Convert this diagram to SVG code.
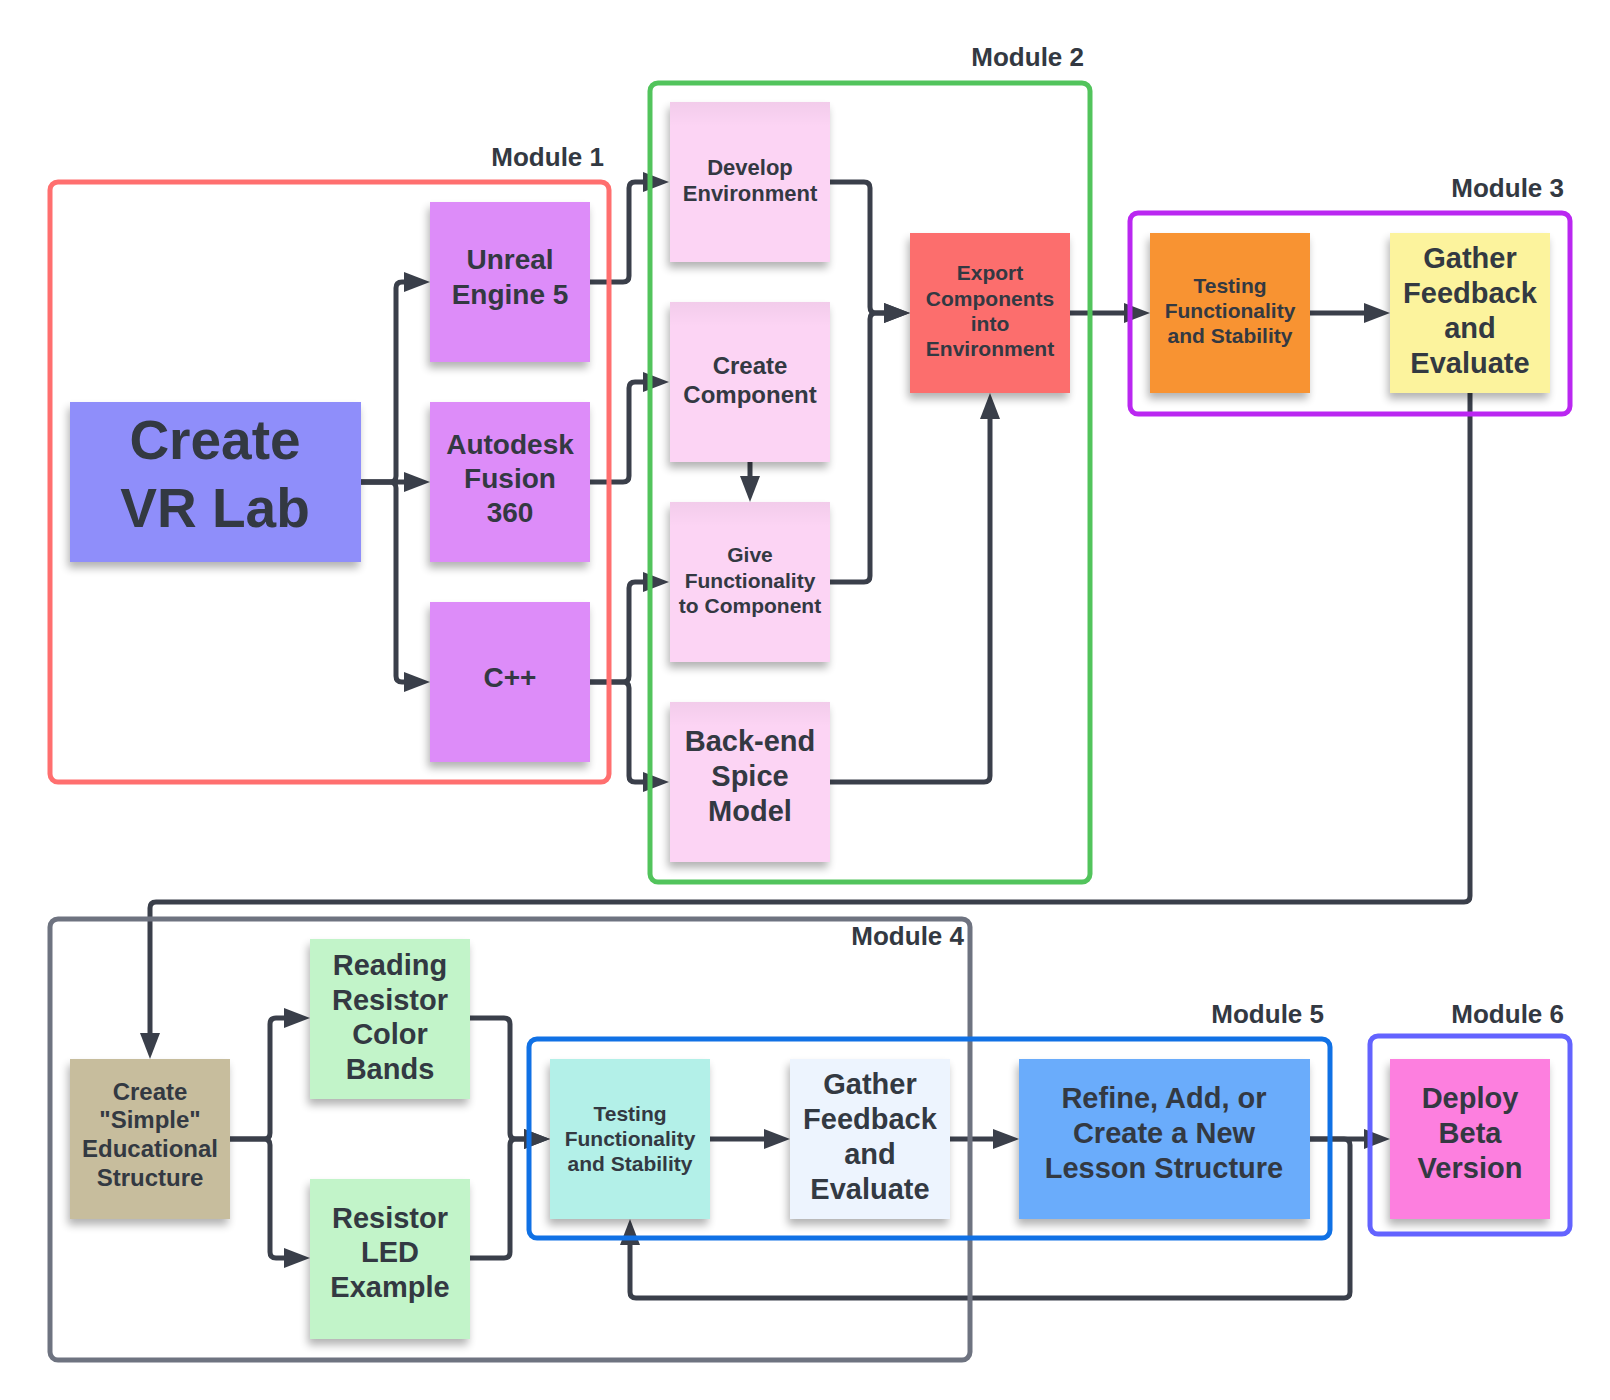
<svg xmlns="http://www.w3.org/2000/svg" width="1610" height="1400" viewBox="0 0 1610 1400">
<style>
.n text{font-family:"Liberation Sans",Arial,sans-serif;font-weight:bold;fill:#333942;text-anchor:middle}
.lbl{font-family:"Liberation Sans",Arial,sans-serif;font-weight:bold;fill:#333942;text-anchor:end;font-size:26px}
.c path{fill:none;stroke:#3A3F4A;stroke-width:5;stroke-linejoin:round}
.c .a{marker-end:url(#arr)}
.f{fill:none;stroke-width:5}
.s{filter:url(#sh)}
</style>
<defs>
<marker id="arr" markerUnits="userSpaceOnUse" markerWidth="26" markerHeight="22" viewBox="0 0 26 22" refX="16" refY="11" orient="auto"><path d="M0,1 L26,11 L0,21 Z" fill="#3A3F4A"/></marker>
<filter id="sh" x="-10%" y="-10%" width="120%" height="125%"><feGaussianBlur in="SourceAlpha" stdDeviation="4"/><feOffset dx="-2" dy="6"/><feComponentTransfer><feFuncA type="linear" slope="0.3"/></feComponentTransfer><feMerge><feMergeNode/><feMergeNode in="SourceGraphic"/></feMerge></filter>
<linearGradient id="tg" x1="0" y1="0" x2="0" y2="1"><stop offset="0" stop-color="#000" stop-opacity="0.04"/><stop offset="0.15" stop-color="#000" stop-opacity="0"/></linearGradient>
</defs>
<rect width="1610" height="1400" fill="#fff"/>

<g id="connectors" class="c">
<path class="a" d="M361,482 H390 Q396,482 396,476 V288 Q396,282 402,282 H420"/>
<path class="a" d="M361,482 H420"/>
<path class="a" d="M361,482 H390 Q396,482 396,488 V676 Q396,682 402,682 H420"/>
<path class="a" d="M590,282 H623 Q629,282 629,276 V188 Q629,182 635,182 H659"/>
<path class="a" d="M590,482 H623 Q629,482 629,476 V388 Q629,382 635,382 H659"/>
<path class="a" d="M590,682 H623 Q629,682 629,676 V588 Q629,582 635,582 H659"/>
<path class="a" d="M590,682 H623 Q629,682 629,688 V776 Q629,782 635,782 H659"/>
<path class="a" d="M750,462 V492"/>
<path class="a" d="M830,182 H864 Q870,182 870,188 V307 Q870,313 876,313 H900"/>
<path class="a" d="M830,582 H864 Q870,582 870,576 V319 Q870,313 876,313 H900"/>
<path class="a" d="M830,782 H984 Q990,782 990,776 V403"/>
<path class="a" d="M1070,313 H1140"/>
<path class="a" d="M1310,313 H1380"/>
<path class="a" d="M1470,393 V896 Q1470,902 1464,902 H156 Q150,902 150,908 V1049"/>
<path class="a" d="M230,1139 H264 Q270,1139 270,1133 V1024 Q270,1018 276,1018 H300"/>
<path class="a" d="M230,1139 H264 Q270,1139 270,1145 V1252 Q270,1258 276,1258 H300"/>
<path class="a" d="M470,1018 H504 Q510,1018 510,1024 V1133 Q510,1139 516,1139 H540"/>
<path class="a" d="M470,1258 H504 Q510,1258 510,1252 V1145 Q510,1139 516,1139 H540"/>
<path class="a" d="M710,1139 H780"/>
<path class="a" d="M950,1139 H1009"/>
<path class="a" d="M1310,1139 H1380"/>
<path class="a" d="M1310,1139 H1344 Q1350,1139 1350,1145 V1292 Q1350,1298 1344,1298 H636 Q630,1298 630,1292 V1229"/>
</g>

<g id="create-vr-lab" class="n"><rect class="s" x="70" y="402" width="291" height="160" fill="#8F8EFA"/><text font-size="55"><tspan x="215" y="459">Create</tspan><tspan x="215" y="527">VR Lab</tspan></text></g>
<g id="unreal" class="n"><rect class="s" x="430" y="202" width="160" height="160" fill="#DD8CF9"/><text font-size="28"><tspan x="510" y="269">Unreal</tspan><tspan x="510" y="304">Engine 5</tspan></text></g>
<g id="autodesk" class="n"><rect class="s" x="430" y="402" width="160" height="160" fill="#DD8CF9"/><text font-size="28"><tspan x="510" y="454">Autodesk</tspan><tspan x="510" y="488">Fusion</tspan><tspan x="510" y="522">360</tspan></text></g>
<g id="cpp" class="n"><rect class="s" x="430" y="602" width="160" height="160" fill="#DD8CF9"/><text font-size="28"><tspan x="510" y="687">C++</tspan></text></g>

<g id="develop-env" class="n"><rect class="s" x="670" y="102" width="160" height="160" fill="#FCD4F4"/><rect x="670" y="102" width="160" height="160" fill="url(#tg)"/><text font-size="22"><tspan x="750" y="175">Develop</tspan><tspan x="750" y="201">Environment</tspan></text></g>
<g id="create-component" class="n"><rect class="s" x="670" y="302" width="160" height="160" fill="#FCD4F4"/><rect x="670" y="302" width="160" height="160" fill="url(#tg)"/><text font-size="24"><tspan x="750" y="374">Create</tspan><tspan x="750" y="403">Component</tspan></text></g>
<g id="give-functionality" class="n"><rect class="s" x="670" y="502" width="160" height="160" fill="#FCD4F4"/><rect x="670" y="502" width="160" height="160" fill="url(#tg)"/><text font-size="21"><tspan x="750" y="562">Give</tspan><tspan x="750" y="588">Functionality</tspan><tspan x="750" y="613">to Component</tspan></text></g>
<g id="backend-spice" class="n"><rect class="s" x="670" y="702" width="160" height="160" fill="#FCD4F4"/><rect x="670" y="702" width="160" height="160" fill="url(#tg)"/><text font-size="29"><tspan x="750" y="751">Back-end</tspan><tspan x="750" y="786">Spice</tspan><tspan x="750" y="821">Model</tspan></text></g>
<g id="export-components" class="n"><rect class="s" x="910" y="233" width="160" height="160" fill="#FC6E6D"/><text font-size="21"><tspan x="990" y="280">Export</tspan><tspan x="990" y="306">Components</tspan><tspan x="990" y="331">into</tspan><tspan x="990" y="356">Environment</tspan></text></g>

<g id="testing-m3" class="n"><rect class="s" x="1150" y="233" width="160" height="160" fill="#F89330"/><text font-size="21"><tspan x="1230" y="293">Testing</tspan><tspan x="1230" y="318">Functionality</tspan><tspan x="1230" y="343">and Stability</tspan></text></g>
<g id="gather-m3" class="n"><rect class="s" x="1390" y="233" width="160" height="160" fill="#FCF39D"/><text font-size="29"><tspan x="1470" y="268">Gather</tspan><tspan x="1470" y="303">Feedback</tspan><tspan x="1470" y="338">and</tspan><tspan x="1470" y="373">Evaluate</tspan></text></g>

<g id="create-simple" class="n"><rect class="s" x="70" y="1059" width="160" height="160" fill="#C7BD9D"/><text font-size="24"><tspan x="150" y="1100">Create</tspan><tspan x="150" y="1128">"Simple"</tspan><tspan x="150" y="1157">Educational</tspan><tspan x="150" y="1186">Structure</tspan></text></g>
<g id="reading-resistor" class="n"><rect class="s" x="310" y="939" width="160" height="160" fill="#C2F4C9"/><text font-size="29"><tspan x="390" y="975">Reading</tspan><tspan x="390" y="1010">Resistor</tspan><tspan x="390" y="1044">Color</tspan><tspan x="390" y="1079">Bands</tspan></text></g>
<g id="resistor-led" class="n"><rect class="s" x="310" y="1179" width="160" height="160" fill="#C2F4C9"/><text font-size="29"><tspan x="390" y="1228">Resistor</tspan><tspan x="390" y="1262">LED</tspan><tspan x="390" y="1297">Example</tspan></text></g>
<g id="testing-m5" class="n"><rect class="s" x="550" y="1059" width="160" height="160" fill="#B3F0E8"/><text font-size="21"><tspan x="630" y="1121">Testing</tspan><tspan x="630" y="1146">Functionality</tspan><tspan x="630" y="1171">and Stability</tspan></text></g>
<g id="gather-m5" class="n"><rect class="s" x="790" y="1059" width="160" height="160" fill="#EDF4FE"/><text font-size="29"><tspan x="870" y="1094">Gather</tspan><tspan x="870" y="1129">Feedback</tspan><tspan x="870" y="1164">and</tspan><tspan x="870" y="1199">Evaluate</tspan></text></g>
<g id="refine" class="n"><rect class="s" x="1019" y="1059" width="291" height="160" fill="#6AACFB"/><text font-size="29"><tspan x="1164" y="1108">Refine, Add, or</tspan><tspan x="1164" y="1143">Create a New</tspan><tspan x="1164" y="1178">Lesson Structure</tspan></text></g>
<g id="deploy" class="n"><rect class="s" x="1390" y="1059" width="160" height="160" fill="#FD7FDF"/><text font-size="29"><tspan x="1470" y="1108">Deploy</tspan><tspan x="1470" y="1143">Beta</tspan><tspan x="1470" y="1178">Version</tspan></text></g>

<g id="module-1"><rect class="f" x="50" y="182" width="559" height="600" rx="8" stroke="#FF6F6F"/><text class="lbl" x="604" y="166">Module 1</text></g>
<g id="module-2"><rect class="f" x="650" y="83" width="440" height="799" rx="8" stroke="#52C45C"/><text class="lbl" x="1084" y="66">Module 2</text></g>
<g id="module-3"><rect class="f" x="1130" y="213" width="440" height="201" rx="8" stroke="#BA27F1"/><text class="lbl" x="1564" y="197">Module 3</text></g>
<g id="module-4"><rect class="f" x="50" y="919" width="920" height="441" rx="8" stroke="#6E7380"/><text class="lbl" x="964" y="945">Module 4</text></g>
<g id="module-5"><rect class="f" x="529" y="1039" width="801" height="199" rx="8" stroke="#1071E5"/><text class="lbl" x="1324" y="1023">Module 5</text></g>
<g id="module-6"><rect class="f" x="1370" y="1036" width="200" height="198" rx="8" stroke="#6363FF"/><text class="lbl" x="1564" y="1023">Module 6</text></g>
</svg>
